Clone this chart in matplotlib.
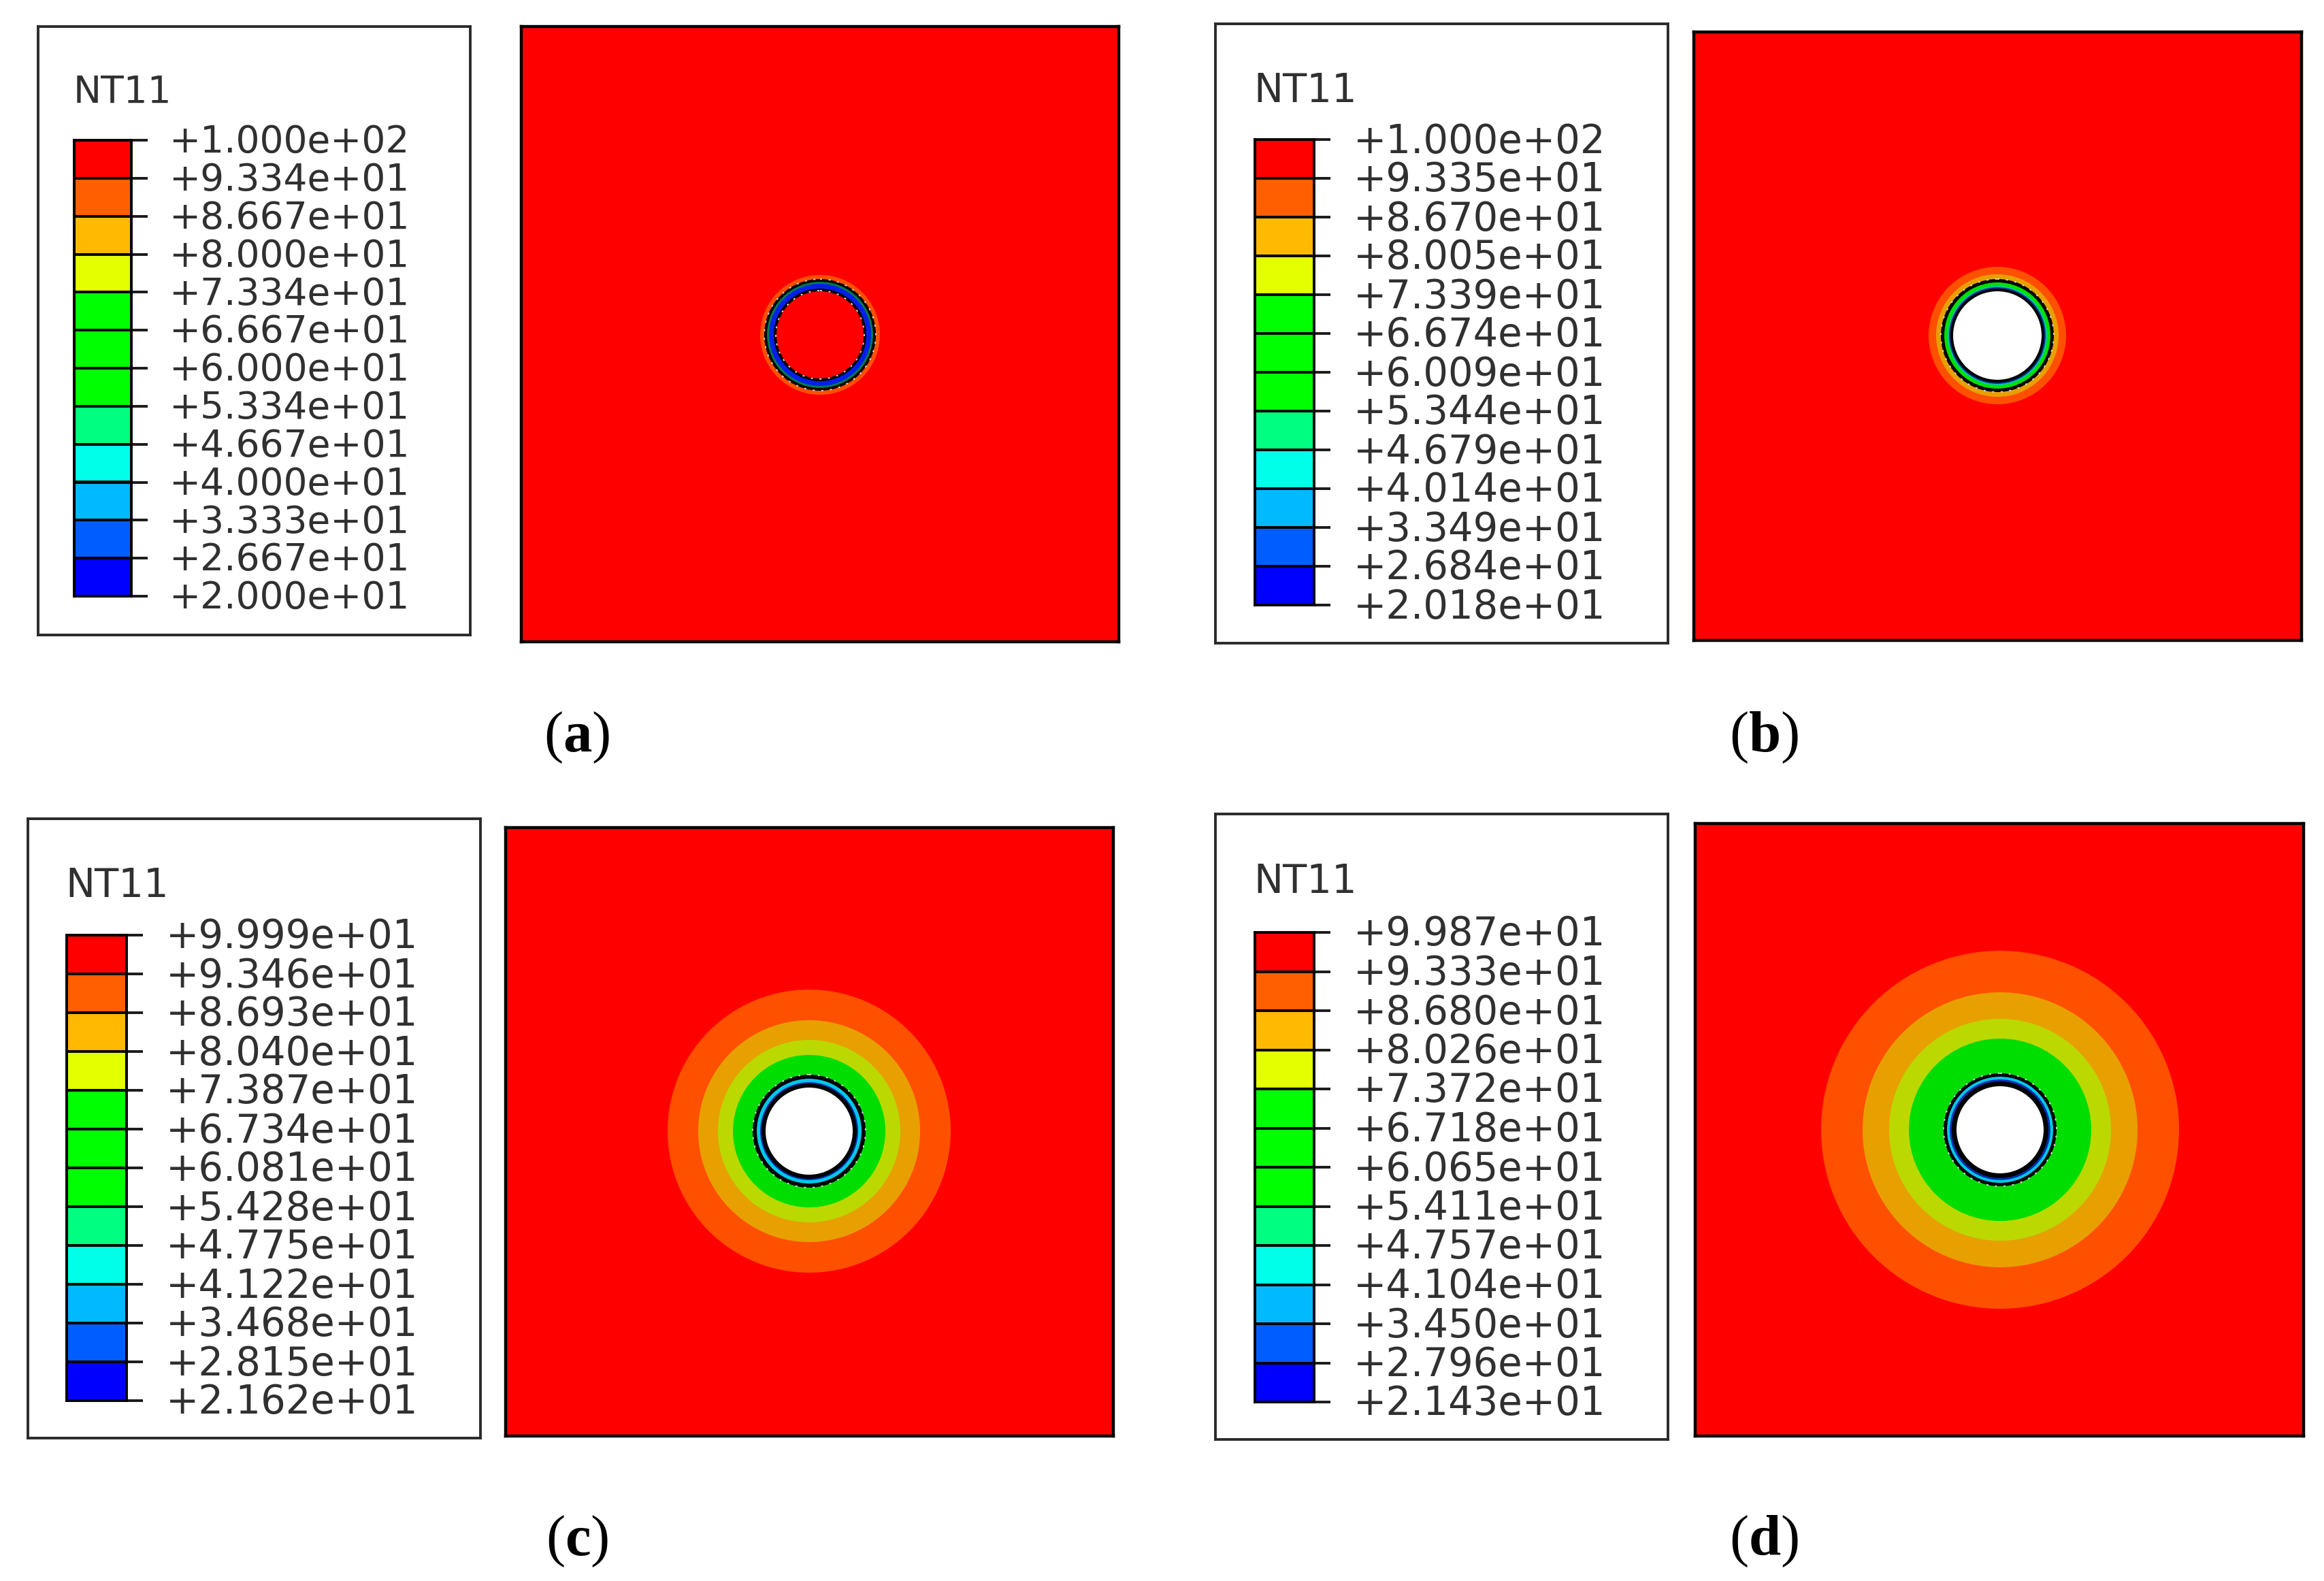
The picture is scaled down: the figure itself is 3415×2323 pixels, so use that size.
import matplotlib
matplotlib.use("Agg")
import matplotlib.pyplot as plt
from matplotlib.patches import Circle
from matplotlib.transforms import ScaledTranslation

plt.rcParams['font.family'] = ['DejaVu Sans']
plt.rcParams['mathtext.fontset'] = 'custom'
plt.rcParams['mathtext.rm'] = 'Liberation Serif'
plt.rcParams['mathtext.bf'] = 'Liberation Serif:bold'

# Legend values, top to bottom
values_a = [100.0, 93.34, 86.67, 80.00, 73.34, 66.67, 60.00, 53.34, 46.67, 40.00, 33.33, 26.67, 20.00]
values_b = [100.0, 93.35, 86.70, 80.05, 73.39, 66.74, 60.09, 53.44, 46.79, 40.14, 33.49, 26.84, 20.18]
values_c = [99.99, 93.46, 86.93, 80.40, 73.87, 67.34, 60.81, 54.28, 47.75, 41.22, 34.68, 28.15, 21.62]
values_d = [99.87, 93.33, 86.80, 80.26, 73.72, 67.18, 60.65, 54.11, 47.57, 41.04, 34.50, 27.96, 21.43]

level_colors = ['#FF0000', '#FF5F00', '#FFB900', '#E3FF00', '#00FF00', '#00FF00', '#00FF00',
                '#00FF80', '#00FFE8', '#00B9FF', '#005DFF', '#0000FF']

# Temperature bands around the hole, outer radius first (reference pixels)
radii_a = [88, 82, 78, 75, 68, 64]
radii_b = [101, 90, 83, 78, 73, 71, 69, 65]
radii_c = [208, 163, 134, 112, 83, 77, 72, 70, 64]
radii_d = [263, 202, 163, 134, 83, 78, 74, 71, 64]

bands_a = ['#FF5000', '#000000', '#007A50', '#0020E8', '#000000', '#FF0000']
bands_b = ['#FF5000', '#E8A000', '#000000', '#00E000', '#00C8A0', '#003090', '#000000', '#FFFFFF']
bands_c = ['#FF5000', '#E8A000', '#BBD900', '#00DD00', '#000000', '#00C8E8', '#0030B0', '#000000', '#FFFFFF']
bands_d = ['#FF5000', '#E8A000', '#BBD900', '#00DD00', '#000000', '#00C8E8', '#0030B0', '#000000', '#FFFFFF']

captions = ['a', 'b', 'c', 'd']

# Layout in reference pixels
W, H = 3415, 2323
panels = [
    dict(values=values_a, radii=radii_a, bands=bands_a, box=(56, 39, 691, 933), bar=(109, 206, 193, 876),
         field=(766, 39, 1644, 943), center=(1205, 492), size=39.6, pad=22, title=(108, 136), cap=(848, 1084),
         dots=[82, 65]),
    dict(values=values_b, radii=radii_b, bands=bands_b, box=(1786, 35, 2451, 945), bar=(1844, 205, 1931, 889),
         field=(2489, 47, 3382, 941), center=(2935, 493), size=41.5, pad=24, title=(1842, 134), cap=(2592, 1084),
         dots=[83]),
    dict(values=values_c, radii=radii_c, bands=bands_c, box=(41, 1203, 706, 2113), bar=(98, 1374, 186, 2058),
         field=(743, 1216, 1636, 2110), center=(1189, 1662), size=41.5, pad=24, title=(96, 1302), cap=(848, 2265),
         dots=[83]),
    dict(values=values_d, radii=radii_d, bands=bands_d, box=(1786, 1196, 2451, 2115), bar=(1844, 1370, 1931, 2060),
         field=(2491, 1210, 3385, 2110), center=(2939, 1660), size=41.5, pad=24, title=(1842, 1296), cap=(2592, 2265),
         dots=[83]),
]

fig = plt.figure(figsize=(W / 100, H / 100), dpi=100, facecolor='white')


def px_axes(x0, y0, x1, y1):
    return fig.add_axes([x0 / W, 1 - y1 / H, (x1 - x0) / W, (y1 - y0) / H])


for name, p in zip(captions, panels):
    # Legend frame
    x0, y0, x1, y1 = p['box']
    box = px_axes(x0, y0, x1, y1)
    box.set_xlim(x0, x1)
    box.set_ylim(y1, y0)
    box.set_xticks([])
    box.set_yticks([])
    for s in box.spines.values():
        s.set_linewidth(2.8)
        s.set_color('#2a2a2a')
    box.text(p['title'][0], p['title'][1], 'NT11', fontsize=p['size'], va='center', ha='left', color='#303030')

    # Legend colour bar
    bx0, by0, bx1, by1 = p['bar']
    bar = px_axes(bx0, by0, bx1, by1)
    for i, c in enumerate(level_colors):
        bar.bar(0.5, 1, width=1, bottom=i, color=c, edgecolor='#000000', linewidth=2.8)
    bar.set_xlim(0, 1)
    bar.set_ylim(len(level_colors), 0)
    bar.set_xticks([])
    bar.yaxis.tick_right()
    bar.set_yticks(range(len(p['values'])))
    bar.set_yticklabels([f"{v:+.3e}" for v in p['values']])
    bar.tick_params(axis='y', length=17.5, width=2.8, color='#1a1a1a', pad=p['pad'],
                    labelsize=p['size'], labelcolor='#303030')
    shift = ScaledTranslation(0, 3 / 100, fig.dpi_scale_trans)
    for lab in bar.get_yticklabels():
        lab.set_transform(lab.get_transform() + shift)
    for s in bar.spines.values():
        s.set_linewidth(2.8)

    # Contour field
    fx0, fy0, fx1, fy1 = p['field']
    cx, cy = p['center']
    field = px_axes(fx0, fy0, fx1, fy1)
    field.set_facecolor('#FF0000')
    field.set_xlim(fx0 - cx, fx1 - cx)
    field.set_ylim(fy1 - cy, fy0 - cy)
    field.set_xticks([])
    field.set_yticks([])
    for s in field.spines.values():
        s.set_linewidth(3.2)
    for r, c in zip(p['radii'], p['bands']):
        field.add_patch(Circle((0, 0), r, facecolor=c, edgecolor='none'))
    # broken mesh edge where the rings meet
    for r in p['dots']:
        field.add_patch(Circle((0, 0), r, fill=False, edgecolor='#d8d8d8', linewidth=1.4, linestyle=(0, (1.5, 5))))

    fig.text(p['cap'][0] / W, 1 - p['cap'][1] / H, '($\\mathbf{' + name + '}$)', family='Liberation Serif',
             fontsize=61, ha='center', va='center', color='black')

fig.savefig("out.png", dpi=100)
